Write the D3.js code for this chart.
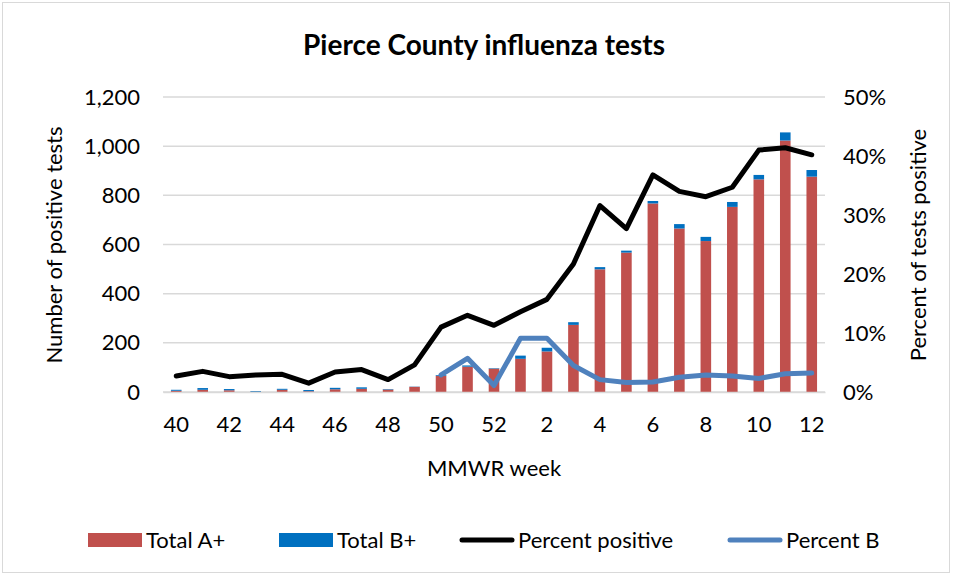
<!DOCTYPE html>
<html>
<head>
<meta charset="utf-8">
<script src="https://cdn.jsdelivr.net/npm/d3@7"></script>
<style>
  body { margin: 0; background: #fff; }
  svg text { font-family: Lato, "Open Sans", sans-serif; fill: #000; }
</style>
</head>
<body>
<svg id="chart" width="953" height="576"></svg>
<script>
// MMWR weeks, season 40 -> 12
const weeks = ["40","41","42","43","44","45","46","47","48","49","50","51","52",
  "1","2","3","4","5","6","7","8","9","10","11","12"];
const totalA = [5, 9, 7, 1, 9, 3, 11, 13, 10, 21, 66, 103, 95,
  135, 165, 273, 499, 567, 767, 665, 614, 753, 865, 1023, 876];
const totalB = [4, 7, 5, 3, 4, 5, 6, 6, 2, 1, 3, 5, 2,
  13, 15, 11, 9, 8, 10, 18, 17, 20, 18, 33, 27];
// percent values
const pctPositive = [2.7, 3.5, 2.6, 2.9, 3.0, 1.5, 3.4, 3.8, 2.1, 4.6, 11.0, 13.0, 11.3,
  13.6, 15.7, 21.7, 31.6, 27.7, 36.8, 34.0, 33.1, 34.7, 41.0, 41.4, 40.2];
const pctB = [null, null, null, null, null, null, null, null, null, null, 2.9, 5.7, 1.1,
  9.1, 9.1, 4.5, 2.1, 1.6, 1.7, 2.5, 2.9, 2.7, 2.3, 3.1, 3.2];
const countTicks = [0, 200, 400, 600, 800, 1000, 1200];
const pctTicks = [0, 10, 20, 30, 40, 50];

const colors = { a: "#c0504d", b: "#0070c0", pos: "#000000", pb: "#4f81bd", grid: "#d9d9d9" };

const svg = d3.select("#chart");
const margin = { left: 163, right: 953 - 825, top: 97, bottom: 576 - 392 };

// chart border
svg.append("rect")
  .attr("x", 2.5).attr("y", 2.5).attr("width", 947).attr("height", 570)
  .attr("fill", "#fff").attr("stroke", "#d9d9d9").attr("stroke-width", 1);

const x = d3.scaleBand().domain(weeks).range([margin.left, 825]).paddingInner(0.6).paddingOuter(0.3);
const yCount = d3.scaleLinear().domain([0, 1200]).range([392, 97]);
const yPct = d3.scaleLinear().domain([0, 50]).range([392, 97]);

// gridlines
svg.append("g").attr("class", "grid")
  .selectAll("line").data(countTicks).join("line")
  .attr("x1", margin.left).attr("x2", 825)
  .attr("y1", d => yCount(d)).attr("y2", d => yCount(d))
  .attr("stroke", colors.grid).attr("stroke-width", 1.5);

// stacked bars
const stackData = weeks.map((w, i) => ({ week: w, a: totalA[i], b: totalB[i] }));
const series = d3.stack().keys(["a", "b"])(stackData);
svg.append("g").attr("class", "bars")
  .selectAll("g").data(series).join("g")
  .attr("fill", d => colors[d.key])
  .selectAll("rect").data(d => d).join("rect")
  .attr("x", d => x(d.data.week))
  .attr("width", x.bandwidth())
  .attr("y", d => yCount(d[1]))
  .attr("height", d => yCount(d[0]) - yCount(d[1]));

// lines
const cx = w => x(w) + x.bandwidth() / 2;
const linePos = d3.line().x((d, i) => cx(weeks[i])).y(d => yPct(d));
svg.append("path").datum(pctPositive)
  .attr("d", linePos).attr("fill", "none")
  .attr("stroke", colors.pos).attr("stroke-width", 5)
  .attr("stroke-linejoin", "round").attr("stroke-linecap", "round");

const lineB = d3.line().defined(d => d !== null).x((d, i) => cx(weeks[i])).y(d => yPct(d));
svg.append("path").datum(pctB)
  .attr("d", lineB).attr("fill", "none")
  .attr("stroke", colors.pb).attr("stroke-width", 5)
  .attr("stroke-linejoin", "round").attr("stroke-linecap", "round");

// axes
const fs = 22;
const left = svg.append("g").attr("transform", "translate(140,0)")
  .call(d3.axisLeft(yCount).tickValues(countTicks).tickSize(0).tickPadding(0).tickFormat(d3.format(",")));
left.select(".domain").remove();
left.selectAll("text").style("font-size", fs + "px");

const right = svg.append("g").attr("transform", "translate(843,0)")
  .call(d3.axisRight(yPct).tickValues(pctTicks).tickSize(0).tickPadding(0).tickFormat(d => d + "%"));
right.select(".domain").remove();
right.selectAll("text").style("font-size", fs + "px");

const bottom = svg.append("g").attr("transform", "translate(0,392)")
  .call(d3.axisBottom(x).tickValues(weeks.filter((d, i) => i % 2 === 0)).tickSize(0).tickPadding(24));
bottom.select(".domain").attr("stroke", colors.grid).attr("stroke-width", 1.5);
bottom.selectAll("text").style("font-size", fs + "px");

// titles
svg.append("text").attr("x", 484).attr("y", 55).attr("text-anchor", "middle")
  .style("font-size", "28px").style("font-weight", "bold")
  .text("Pierce County influenza tests");

svg.append("text").attr("x", 494).attr("y", 476).attr("text-anchor", "middle")
  .style("font-size", fs + "px").text("MMWR week");

svg.append("text").attr("transform", "translate(62,245) rotate(-90)")
  .attr("text-anchor", "middle").style("font-size", fs + "px")
  .text("Number of positive tests");

svg.append("text").attr("transform", "translate(926,245) rotate(-90)")
  .attr("text-anchor", "middle").style("font-size", fs + "px")
  .text("Percent of tests positive");

// legend
const legendItems = [
  { label: "Total A+", type: "rect", color: colors.a, x: 88 },
  { label: "Total B+", type: "rect", color: colors.b, x: 279 },
  { label: "Percent positive", type: "line", color: colors.pos, x: 460 },
  { label: "Percent B", type: "line", color: colors.pb, x: 728 }
];
const legend = svg.append("g").selectAll("g").data(legendItems).join("g")
  .attr("transform", d => `translate(${d.x},540)`);
legend.filter(d => d.type === "rect").append("rect")
  .attr("x", 0).attr("y", -7).attr("width", 54).attr("height", 14)
  .attr("fill", d => d.color);
legend.filter(d => d.type === "line").append("line")
  .attr("x1", 2).attr("x2", 52).attr("y1", 0).attr("y2", 0)
  .attr("stroke", d => d.color).attr("stroke-width", 5).attr("stroke-linecap", "round");
legend.append("text").attr("x", 58).attr("y", 8).style("font-size", fs + "px")
  .text(d => d.label);
</script>
</body>
</html>
